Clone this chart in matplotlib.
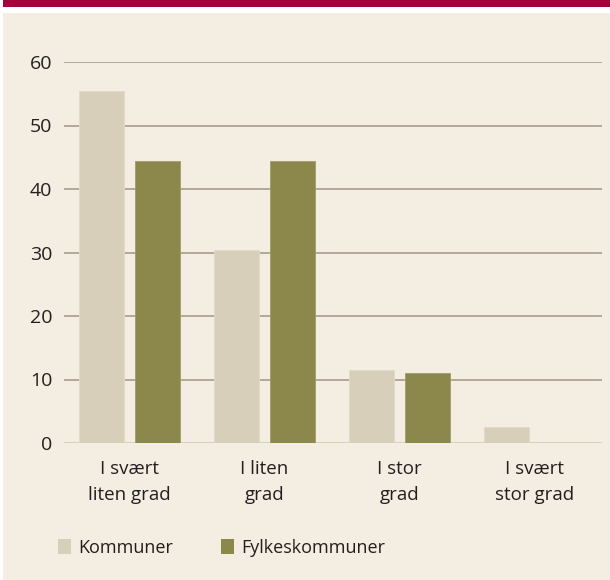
"""Grouped bar chart: Kommuner vs Fylkeskommuner."""

import matplotlib.pyplot as plt
import numpy as np
from matplotlib.patches import Rectangle

categories = ["I svært\nliten grad", "I liten\ngrad", "I stor\ngrad", "I svært\nstor grad"]
kommuner = [55.4, 30.4, 11.5, 2.5]
fylkeskommuner = [44.4, 44.4, 11.1, 0.0]
series_names = ["Kommuner", "Fylkeskommuner"]
yticks = [0, 10, 20, 30, 40, 50, 60]

BG = "#F4EDE1"
C_KOMM = "#D8CFBA"
C_FYLKE = "#8C884B"
RED = "#A8003A"
GRID = "#A89C8E"
ZERO = "#D9D0BE"
TEXT = "#231F20"

plt.rcParams["font.family"] = ["Open Sans", "DejaVu Sans"]

W, H = 610, 580
fig = plt.figure(figsize=(W / 100, H / 100), dpi=100)
fig.patch.set_facecolor("white")

# top red band and beige panel (behind the axes)
fig.patches.append(Rectangle((3 / W, 1 - 7 / H), 1, 7 / H, transform=fig.transFigure,
                             facecolor=RED, edgecolor="none", zorder=-2))
fig.patches.append(Rectangle((3 / W, 0), 1, 1 - 13 / H, transform=fig.transFigure,
                             facecolor=BG, edgecolor="none", zorder=-2))

# axes: x from 64 to 602 px, y from 62 (60) to 443 (0)
ax = fig.add_axes([64 / W, 1 - 443 / H, (602 - 64) / W, (443 - 62) / H])
ax.set_facecolor("none")

x = np.arange(len(categories))
width = 0.333
off = 0.207
ax.bar(x - off, kommuner, width, color=C_KOMM, zorder=3, edgecolor="#E2DAC8", linewidth=0.6)
ax.bar(x + off, fylkeskommuner, width, color=C_FYLKE, zorder=3, edgecolor="#A09C66", linewidth=0.6)

for v in yticks[1:]:
    ax.axhline(v, color=GRID, linewidth=1.2, zorder=1)
ax.axhline(0, color=ZERO, linewidth=2.2, zorder=2)

ax.set_xlim(-0.485, 3.5)
ax.set_ylim(0, 60)
ax.set_yticks(yticks)
ax.set_yticklabels([str(v) for v in yticks], fontsize=14, color=TEXT)
ax.set_xticks(x)
ax.set_xticklabels(categories, fontsize=13.5, color=TEXT, linespacing=1.6)
ax.tick_params(axis="y", length=0, pad=8.5)
ax.tick_params(axis="x", length=0, pad=12)
for s in ax.spines.values():
    s.set_visible(False)

# legend
for xs, xt, name, col in [(58, 78, series_names[0], C_KOMM), (221, 241, series_names[1], C_FYLKE)]:
    fig.patches.append(Rectangle((xs / W, 1 - 554 / H), 13 / W, 15 / H, transform=fig.transFigure,
                                 facecolor=col, edgecolor="none"))
    fig.text(xt / W, 1 - 548 / H, name, fontsize=13, color=TEXT, va="center", ha="left")

fig.savefig("out.png", dpi=100, facecolor=fig.get_facecolor())
